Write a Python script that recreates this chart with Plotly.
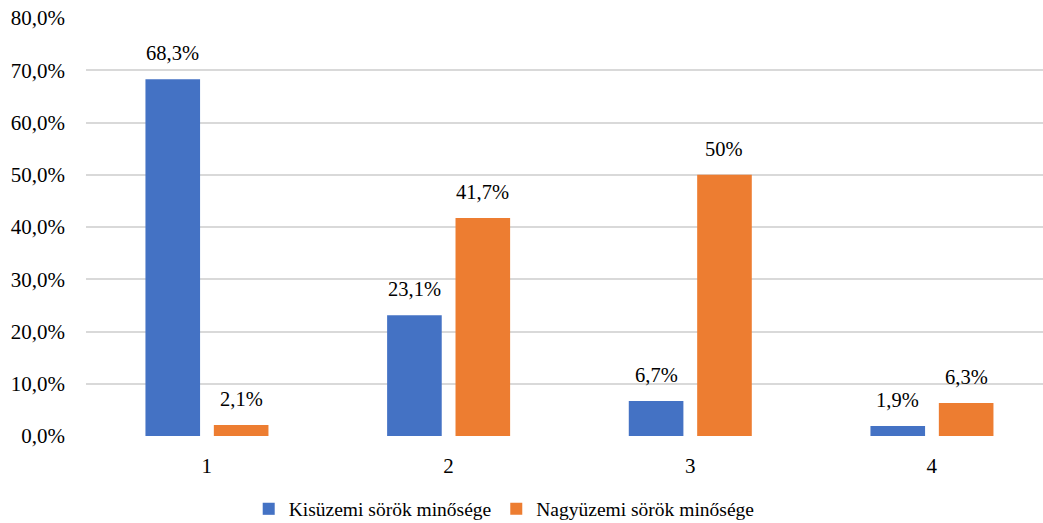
import plotly.graph_objects as go

categories = [1, 2, 3, 4]
category_labels = ["1", "2", "3", "4"]
series_names = ["Kisüzemi sörök minősége", "Nagyüzemi sörök minősége"]
kis_values = [68.3, 23.1, 6.7, 1.9]
nagy_values = [2.1, 41.7, 50.0, 6.3]
kis_labels = ["68,3%", "23,1%", "6,7%", "1,9%"]
nagy_labels = ["2,1%", "41,7%", "50%", "6,3%"]
y_ticks = [0, 10, 20, 30, 40, 50, 60, 70, 80]
y_tick_labels = ["0,0%", "10,0%", "20,0%", "30,0%", "40,0%", "50,0%", "60,0%", "70,0%", "80,0%"]

BLUE = "#4472C4"
ORANGE = "#ED7D31"
FONT = "Liberation Serif"
BAR_W = 0.226

fig = go.Figure()
fig.add_trace(go.Bar(x=categories, y=kis_values, name=series_names[0],
                     marker=dict(color=BLUE, line=dict(width=0)),
                     width=BAR_W, offset=-0.254))
fig.add_trace(go.Bar(x=categories, y=nagy_values, name=series_names[1],
                     marker=dict(color=ORANGE, line=dict(width=0)),
                     width=BAR_W, offset=0.029))

annotations = []
for xs, ys, labs, off in [(categories, kis_values, kis_labels, -0.254),
                          (categories, nagy_values, nagy_labels, 0.029)]:
    for x, y, t in zip(xs, ys, labs):
        annotations.append(dict(x=x + off + BAR_W / 2, y=y, text=t, showarrow=False,
                                xref="x", yref="y", yanchor="middle", yshift=26,
                                font=dict(family=FONT, size=20.5, color="#000000")))

fig.update_layout(
    width=1043, height=523,
    margin=dict(l=86, r=0, t=18, b=87, autoexpand=False),
    paper_bgcolor="white", plot_bgcolor="white",
    barmode="group",
    font=dict(family=FONT, size=21, color="#000000"),
    annotations=annotations,
    showlegend=True,
    hovermode=False,
    legend=dict(orientation="h", x=0.437, xanchor="center", y=-0.175, yanchor="middle",
                font=dict(family=FONT, size=19.5, color="#000000"),
                itemwidth=30, traceorder="normal"),
    xaxis=dict(range=[0.5, 4.46], tickmode="array", tickvals=categories,
               ticktext=category_labels, showgrid=False, zeroline=False,
               showline=False, ticks="", tickfont=dict(family=FONT, size=21),
               automargin=False, ticklabelstandoff=15),
    yaxis=dict(range=[0, 80], tickmode="array", tickvals=y_ticks, ticktext=y_tick_labels,
               showgrid=True, gridcolor="#D9D9D9", gridwidth=1.5, zeroline=False,
               showline=False, ticks="", ticklabelstandoff=20,
               tickfont=dict(family=FONT, size=21), automargin=False),
)

fig.write_html("out.html", config={"displayModeBar": False},
               post_script="document.body.style.margin='0px';")
